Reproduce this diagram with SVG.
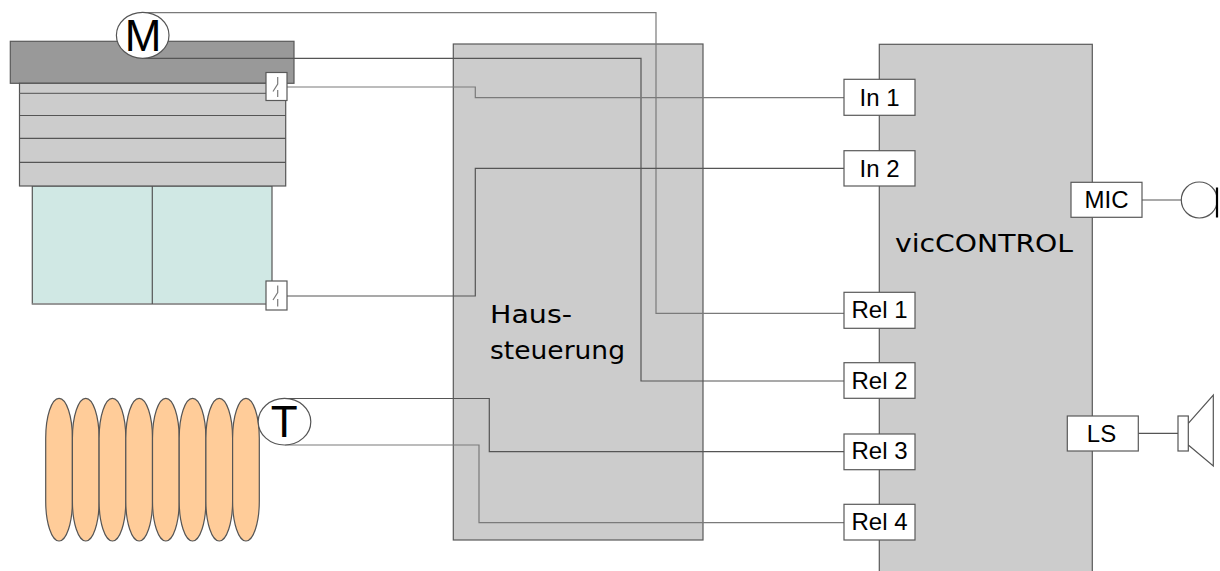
<svg xmlns="http://www.w3.org/2000/svg" width="1220" height="571" viewBox="0 0 1220 571">
  <style>
    .box { fill: #cccccc; stroke: #595959; stroke-width: 1.2; }
    .port { fill: #ffffff; stroke: #595959; stroke-width: 1.2; }
    .lbl { font-family: "Liberation Sans", Arial, sans-serif; font-size: 24px; fill: #000; text-anchor: middle; }
    .big { font-family: "Liberation Sans", Arial, sans-serif; font-size: 44px; fill: #000; text-anchor: middle; }
    .geo { font-family: "DejaVu Sans", sans-serif; font-size: 24px; fill: #000; }
    .wire { fill: none; stroke: #555555; stroke-width: 1.2; }
    .wire.light { stroke: #7a7a7a; }
    .sw { fill: none; stroke: #7a7a7a; stroke-width: 1.2; }
    .coil { fill: #ffcc99; stroke: #555555; stroke-width: 1.2; }
  </style>

  <!-- main control units (drawn first so wiring runs over them) -->
  <g id="haussteuerung">
    <rect class="box" x="453.3" y="44" width="249.7" height="496"/>
    <text class="geo" x="490" y="323" font-size="25" textLength="82" lengthAdjust="spacingAndGlyphs">Haus-</text>
    <text class="geo" x="490" y="359" font-size="25" textLength="135" lengthAdjust="spacingAndGlyphs">steuerung</text>
  </g>

  <g id="viccontrol">
    <rect class="box" x="879.3" y="44.3" width="213" height="540"/>
    <text class="geo" x="895" y="252" font-size="25" textLength="178" lengthAdjust="spacingAndGlyphs">vicCONTROL</text>
  </g>

  <!-- roller shutter with window -->
  <g id="shutter">
    <rect x="10.3" y="41.3" width="283.7" height="42" fill="#999999" stroke="#595959" stroke-width="1.2"/>
    <rect x="32.3" y="186" width="239.7" height="118" fill="#d0e8e4" stroke="#555555" stroke-width="1.2"/>
    <line x1="32.3" y1="304" x2="272" y2="304" stroke="#9a9a9a" stroke-width="1.5"/>
    <line x1="152.3" y1="186" x2="152.3" y2="304" stroke="#555555" stroke-width="1.2"/>
    <rect x="19.5" y="83.3" width="266.2" height="102.7" fill="#cccccc" stroke="#555555" stroke-width="1.2"/>
    <line x1="19.5" y1="93.3" x2="285.7" y2="93.3" stroke="#6a6a6a" stroke-width="1.2"/>
    <line x1="19.5" y1="115.5" x2="285.7" y2="115.5" stroke="#555555" stroke-width="1.2"/>
    <line x1="19.5" y1="138.3" x2="285.7" y2="138.3" stroke="#555555" stroke-width="1.2"/>
    <line x1="19.5" y1="162.3" x2="285.7" y2="162.3" stroke="#555555" stroke-width="1.2"/>
  </g>

  <!-- radiator -->
  <g id="radiator">
    <rect class="coil" x="45.7" y="398.3" width="26.7" height="142.7" rx="13.3" ry="40"/>
    <rect class="coil" x="72.4" y="398.3" width="26.7" height="142.7" rx="13.3" ry="40"/>
    <rect class="coil" x="99.1" y="398.3" width="26.7" height="142.7" rx="13.3" ry="40"/>
    <rect class="coil" x="125.8" y="398.3" width="26.7" height="142.7" rx="13.3" ry="40"/>
    <rect class="coil" x="152.5" y="398.3" width="26.7" height="142.7" rx="13.3" ry="40"/>
    <rect class="coil" x="179.2" y="398.3" width="26.7" height="142.7" rx="13.3" ry="40"/>
    <rect class="coil" x="205.9" y="398.3" width="26.7" height="142.7" rx="13.3" ry="40"/>
    <rect class="coil" x="232.6" y="398.3" width="26.7" height="142.7" rx="13.3" ry="40"/>
  </g>

  <!-- wiring -->
  <g id="connectors">
    <path class="wire light" d="M143,12.7 H656 V313.3 H844"/>
    <path class="wire" d="M143,58.3 H641 V381 H844"/>
    <path class="wire light" d="M287,87 H475.3 V97.7 H844"/>
    <path class="wire" d="M287,296 H475.3 V168.3 H844"/>
    <path class="wire" d="M285,398.5 H489.3 V451.7 H844"/>
    <path class="wire light" d="M285,445 H479 V522.7 H844"/>
    <path class="wire" d="M1142,200 H1181"/>
    <path class="wire" d="M1138,433.3 H1178"/>
  </g>

  <!-- motor -->
  <g id="motor">
    <ellipse cx="142.7" cy="35.3" rx="26.3" ry="23" fill="#ffffff" stroke="#555555" stroke-width="1.2"/>
    <text class="big" x="143" y="50.5">M</text>
  </g>

  <!-- thermostat -->
  <g id="thermostat">
    <ellipse cx="284.5" cy="421.7" rx="26.3" ry="23.3" fill="#ffffff" stroke="#555555" stroke-width="1.2"/>
    <text class="big" x="284.3" y="437">T</text>
  </g>

  <!-- contact switches -->
  <g id="switch-top">
    <rect class="port" x="266" y="72.5" width="21" height="28"/>
    <path class="sw" d="M277.7,77 V84 L273,91.5 M277.7,90 V97"/>
  </g>
  <g id="switch-bottom">
    <rect class="port" x="266" y="281" width="21" height="29"/>
    <path class="sw" d="M277.7,285.5 V292.5 L273,300 M277.7,299 V306.5"/>
  </g>

  <!-- vicCONTROL ports -->
  <g id="in1">
    <rect class="port" x="844" y="79.3" width="71" height="36"/>
    <text class="lbl" x="879.5" y="106">In 1</text>
  </g>
  <g id="in2">
    <rect class="port" x="844" y="150.7" width="71" height="35.3"/>
    <text class="lbl" x="879.5" y="176.5">In 2</text>
  </g>
  <g id="rel1">
    <rect class="port" x="844" y="292.3" width="71" height="36"/>
    <text class="lbl" x="879.5" y="318.3">Rel 1</text>
  </g>
  <g id="rel2">
    <rect class="port" x="844" y="362.7" width="71" height="35.6"/>
    <text class="lbl" x="879.5" y="389">Rel 2</text>
  </g>
  <g id="rel3">
    <rect class="port" x="844" y="434" width="71" height="35.7"/>
    <text class="lbl" x="879.5" y="459.3">Rel 3</text>
  </g>
  <g id="rel4">
    <rect class="port" x="844" y="504.3" width="71" height="35.7"/>
    <text class="lbl" x="879.5" y="530">Rel 4</text>
  </g>
  <g id="mic-port">
    <rect class="port" x="1071" y="182.3" width="71" height="35"/>
    <text class="lbl" x="1106.5" y="208">MIC</text>
  </g>
  <g id="ls-port">
    <rect class="port" x="1067.3" y="416" width="71" height="35"/>
    <text class="lbl" x="1101.5" y="442" font-size="23">LS</text>
  </g>

  <!-- microphone -->
  <g id="microphone">
    <circle cx="1199.3" cy="200" r="18" fill="#ffffff" stroke="#555555" stroke-width="1.2"/>
    <line x1="1217" y1="187.5" x2="1217" y2="217.5" stroke="#000000" stroke-width="2.2"/>
  </g>

  <!-- loudspeaker -->
  <g id="loudspeaker">
    <rect x="1178" y="416" width="10.3" height="35" fill="#ffffff" stroke="#555555" stroke-width="1.2"/>
    <path d="M1188.3,423.3 L1213.3,395 V466 L1188.3,445" fill="none" stroke="#555555" stroke-width="1.2"/>
  </g>
</svg>
